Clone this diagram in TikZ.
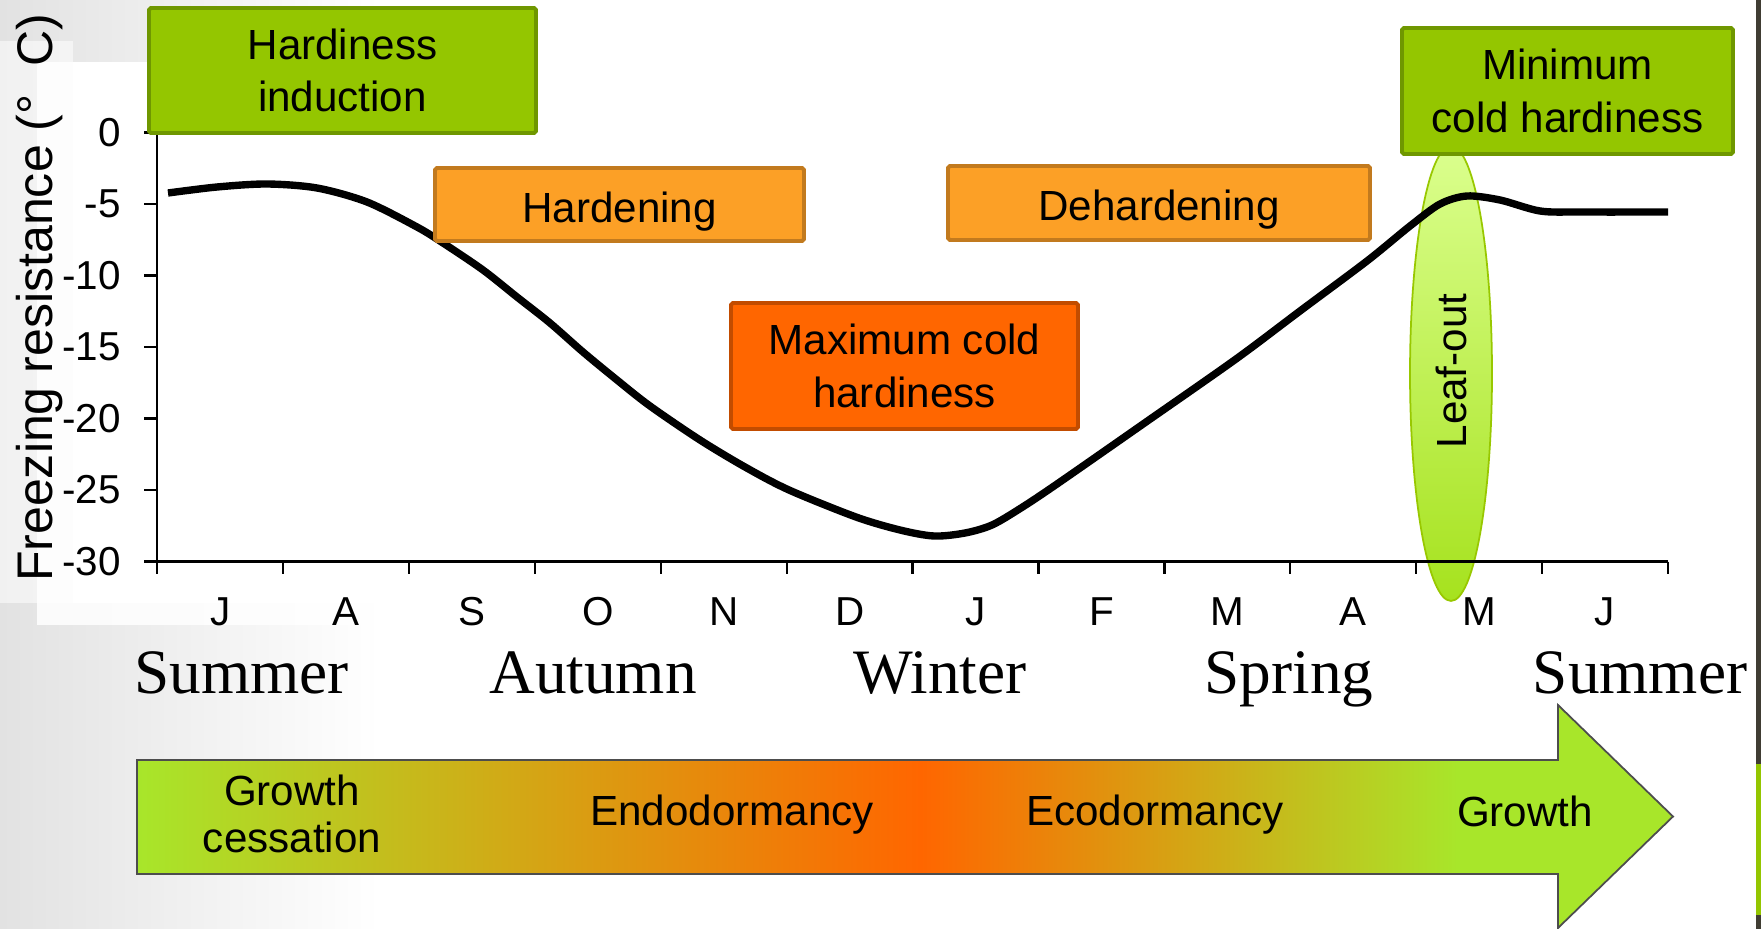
\documentclass[tikz,border=0pt]{standalone}
\usepackage{fontspec}
\newfontfamily\sansfont{Liberation Sans}
\newfontfamily\seasonfont{Liberation Serif}
\usetikzlibrary{shapes.geometric}

\definecolor{boxGreen}{HTML}{94C600}
\definecolor{boxGreenEdge}{HTML}{6F9700}
\definecolor{boxOrange}{HTML}{FCA026}
\definecolor{boxOrangeEdge}{HTML}{C27A1E}
\definecolor{boxRed}{HTML}{FF6600}
\definecolor{boxRedEdge}{HTML}{C24C00}
\definecolor{leafTop}{HTML}{DBFF8E}
\definecolor{leafBottom}{HTML}{A6E21E}
\definecolor{leafEdge}{HTML}{98C800}
\definecolor{barGreen}{HTML}{A8E62A}
\definecolor{barOrange}{HTML}{FF6600}
\definecolor{barEdge}{HTML}{4D4D4D}
\definecolor{slideGray}{HTML}{E2E2E2}
\definecolor{edgeDark}{HTML}{403D33}

% green -> orange -> green along the phase arrow
\pgfdeclarehorizontalshading{phasebar}{100bp}{color(0bp)=(barGreen); color(25bp)=(barGreen); color(50.5bp)=(barOrange); color(68bp)=(barGreen); color(100bp)=(barGreen)}

\newcommand{\lowered}[1]{\raisebox{-0.14cm}[\height][\depth]{#1}}

\tikzset{
  stagebox/.style={draw, line width=2.2pt, rounded corners=1pt, align=center,
    inner sep=0pt, font=\sansfont\fontsize{24}{30}\selectfont, text=black},
  greenbox/.style={stagebox, fill=boxGreen, draw=boxGreenEdge},
  orangebox/.style={stagebox, fill=boxOrange, draw=boxOrangeEdge},
  redbox/.style={stagebox, fill=boxRed, draw=boxRedEdge},
  axisline/.style={line width=1.3pt, black},
  ticklabel/.style={font=\sansfont\fontsize{23}{26}\selectfont, inner sep=0pt},
  season/.style={font=\seasonfont\fontsize{36}{40}\selectfont, anchor=base, inner sep=0pt},
  phase/.style={font=\sansfont\fontsize{24}{27}\selectfont, align=center, inner sep=0pt},
  hardcurve/.style={line width=4.2pt, black, line cap=butt, line join=round}
}

\begin{document}
\begin{tikzpicture}[x=0.02cm, y=-0.02cm]
\useasboundingbox (0,0) rectangle (1761,929);

% slide background
\fill[white] (0,0) rectangle (1761,929);
\shade[left color=slideGray, right color=white] (0,0) rectangle (380,929);
\fill[white, opacity=0.55] (0,41) rectangle (73,603);
\fill[white, opacity=0.85] (37,62) rectangle (1755,625);
\fill[white] (73,62) rectangle (1755,603);
\fill[edgeDark] (1756,0) rectangle (1761,929);
\fill[boxGreen] (1756,764) rectangle (1761,915);

% leaf-out marker (behind the chart)
\node[ellipse, draw=leafEdge, line width=1pt, top color=leafTop, bottom color=leafBottom,
      minimum width=1.64cm, minimum height=9.1cm, inner sep=0pt] (leaf) at (1451,373.5) {};
\node[ticklabel, rotate=90, font=\sansfont\fontsize{24}{26}\selectfont] (leaftext) at (1451,371) {Leaf-out};

% axes
\coordinate (origin) at (157.2,561.5);
\coordinate (ytop) at (157.2,132.5);
\coordinate (xend) at (1668,561.5);
\draw[axisline] (ytop) -- (origin) -- (xend);
\foreach \k/\lab in {0/0,1/-5,2/-10,3/-15,4/-20,5/-25,6/-30} {
  \draw[axisline] (144,132.5+71.5*\k) -- (157.2,132.5+71.5*\k);
  \node[ticklabel, anchor=east] (ytick\k) at (121,132.5+71.5*\k) {\lab};
}
\foreach \i in {0,...,12} {
  \draw[axisline] (157.2+125.9*\i,561.5) -- (157.2+125.9*\i,574);
}
\foreach \m [count=\i from 0] in {J,A,S,O,N,D,J,F,M,A,M,J} {
  \node[ticklabel] (month\i) at (157.2+125.9*\i+62.95,612) {\m};
}
\node[ticklabel, rotate=90, font=\sansfont\fontsize{28.5}{30}\selectfont] (ytitle) at (40,298)
  {Freezing resistance (°\hspace{0.55em}C)};

% freezing resistance through the year
\draw[hardcurve] plot[smooth, tension=0.5] coordinates {
  (168,193) (217,187) (267,184) (317,188) (367,202) (417,227) (443,243)
  (483,270) (517,297) (550,323) (583,352) (617,380) (650,406) (700,440)
  (745,467) (789,490) (856,517) (900,530) (934,536) (965,533) (992,525)
  (1021,508) (1057,484) (1146,422) (1236,359) (1300,311) (1367,261)
  (1410,226) (1440,204) (1467,196) (1500,200) (1540,211) (1580,212) (1668,212)};

% stage boxes
\node[greenbox, minimum width=7.74cm, minimum height=2.5cm] (induction) at (342.5,70.5) {Hardiness\\induction};
\node[orangebox, minimum width=7.38cm, minimum height=1.46cm] (hardening) at (619.5,204.5) {\lowered{Hardening}};
\node[orangebox, minimum width=8.44cm, minimum height=1.48cm] (dehardening) at (1159,203) {\lowered{Dehardening}};
\node[redbox, minimum width=6.94cm, minimum height=2.52cm] (maxhard) at (904.5,366) {Maximum cold\\hardiness};
\node[greenbox, minimum width=6.62cm, minimum height=2.52cm] (minhard) at (1567.5,91) {Minimum\\cold hardiness};

% seasons
\node[season] (sumA) at (241.5,693) {Summer};
\node[season] (autumn) at (593,693) {Autumn};
\node[season] (winter) at (940,693) {Winter};
\node[season] (spring) at (1289,693) {Spring};
\node[season] (sumB) at (1640,693) {Summer};

% dormancy phases along the arrow
\shade[shading=phasebar, draw=barEdge, line width=1pt]
  (137,760) -- (1558,760) -- (1558,705) -- (1673,816.5) -- (1558,928) -- (1558,874) -- (137,874) -- cycle;
\node[phase] (cessation) at (292,814) {Growth\\cessation};
\node[phase] (endo) at (732,815) {Endodormancy};
\node[phase] (eco) at (1155,815) {Ecodormancy};
\node[phase] (growth) at (1525,811) {Growth};
\end{tikzpicture}
\end{document}
